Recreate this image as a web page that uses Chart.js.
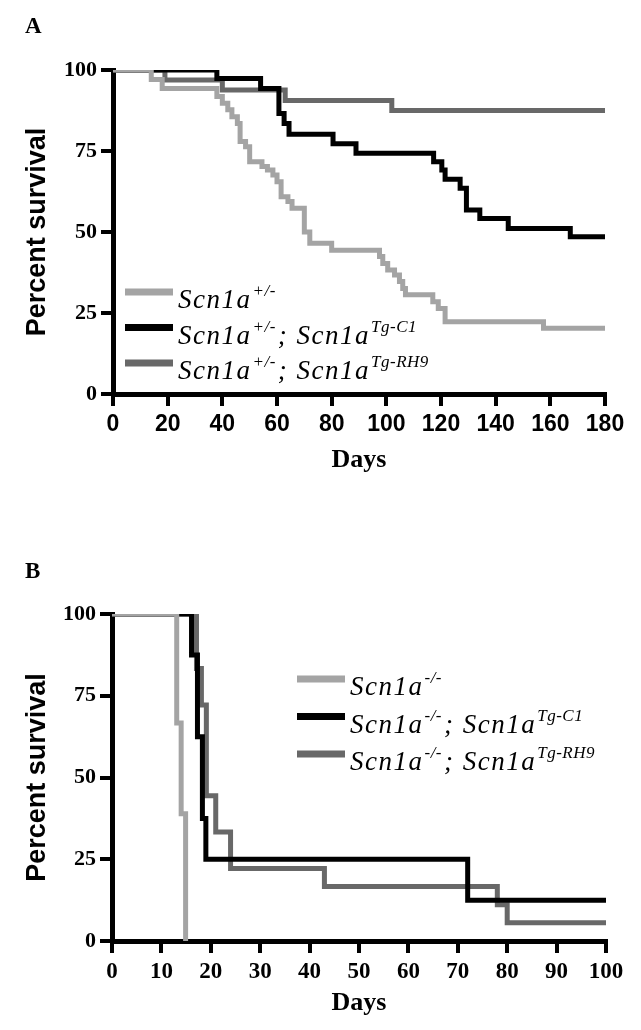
<!DOCTYPE html>
<html>
<head>
<meta charset="utf-8">
<script src="https://cdn.jsdelivr.net/npm/chart.js@4.4.0/dist/chart.umd.min.js"></script>
<style>
  body { margin: 0; background: #fff; width: 641px; height: 1030px; overflow: hidden; position: relative; }
  canvas { position: absolute; left: 0; }
</style>
</head>
<body>
<canvas id="chartA" width="641" height="500" style="top:0"></canvas>
<canvas id="chartB" width="641" height="510" style="top:520px"></canvas>
<script>
// ---- panel A: heterozygous mice, days 0-180 ----
const hetDays = [0, 14, 18, 38, 40, 42, 43.5, 45.5, 46.5, 48.5, 50, 54.5, 56.5, 58.5, 60, 61.5, 64, 65.5, 70, 72, 80, 97.5, 98.7, 100.5, 103, 104.8, 106, 107, 107.5, 117, 119, 121.5, 157.5, 180];
const hetSurv = [100, 97.1, 94.3, 91.8, 89.7, 87.7, 85.6, 83.5, 77.9, 76.3, 71.7, 70.2, 69.1, 67.6, 65.5, 60.9, 59.4, 57.3, 50, 46.5, 44.4, 42.4, 40.3, 38.3, 36.7, 34.7, 32.6, 30.6, 30.6, 28.5, 26.4, 22.3, 20.3, 20.3];

const hetC1Days = [0, 38, 54, 60.7, 62.6, 64.4, 80.5, 88.9, 117.3, 120.3, 121.5, 127, 129.3, 134.2, 144.6, 167.3, 180];
const hetC1Surv = [100, 97.4, 94.3, 86.6, 83.5, 80.2, 77.2, 74.3, 71.7, 69.1, 66.3, 63.5, 56.8, 54.2, 51.1, 48.5, 48.5];

const hetRH9Days = [0, 19, 40, 63, 102, 180];
const hetRH9Surv = [100, 96.9, 93.8, 90.6, 87.5, 87.5];

const xTicksA = { max: 180, step: 20 };

// ---- panel B: homozygous mice, days 0-100 ----
const koDays = [0, 13.1, 14, 14.9];
const koSurv = [100, 66.7, 38.9, 0];

const koC1Days = [0, 16.1, 17.3, 18.3, 19, 72, 100];
const koC1Surv = [100, 87.5, 62.5, 37.5, 25, 12.5, 12.5];

const koRH9Days = [0, 17.1, 18.1, 19.1, 21, 24, 43, 78, 80, 100];
const koRH9Surv = [100, 83.3, 72.2, 44.4, 33.3, 22.2, 16.7, 11.1, 5.6, 5.6];

const xTicksB = { max: 100, step: 10 };
const yTicks = { max: 100, step: 25 };

// legend text: [main, superscript] pairs
const labelsA = [
  [['Scn1a', '+/-']],
  [['Scn1a', '+/-'], ['; Scn1a', 'Tg-C1']],
  [['Scn1a', '+/-'], ['; Scn1a', 'Tg-RH9']]
];
const labelsB = [
  [['Scn1a', '-/-']],
  [['Scn1a', '-/-'], ['; Scn1a', 'Tg-C1']],
  [['Scn1a', '-/-'], ['; Scn1a', 'Tg-RH9']]
];

const LIGHT = '#a4a4a4';
const BLACK = '#000000';
const DARK = '#686868';

function pts(days, surv) {
  return days.map((d, i) => ({ x: d, y: surv[i] }));
}

function series(days, surv, color, parts) {
  return {
    data: pts(days, surv),
    parts: parts,
    borderColor: color,
    borderWidth: 5,
    pointRadius: 0,
    stepped: 'before',
    fill: false,
    borderCapStyle: 'round',
    borderJoinStyle: 'miter'
  };
}

// draws the legend rows (with superscripts) and the panel letter
const kmLegend = {
  id: 'kmLegend',
  afterDraw(chart, args, o) {
    const ctx = chart.ctx;
    ctx.save();
    ctx.fillStyle = '#000';
    ctx.textBaseline = 'alphabetic';
    ctx.font = 'bold 23px "Liberation Serif"';
    ctx.fillText(o.letter, o.letterX, o.letterY);

    chart.data.datasets.forEach((ds, i) => {
      const y = o.y + i * o.gap;
      ctx.strokeStyle = ds.borderColor;
      ctx.lineWidth = 7;
      ctx.lineCap = 'butt';
      ctx.beginPath();
      ctx.moveTo(o.x, y);
      ctx.lineTo(o.x + 48, y);
      ctx.stroke();

      let tx = o.x + 53;
      ds.parts.forEach(p => {
        ctx.font = 'italic 27px "Liberation Serif"';
        ctx.letterSpacing = '1.5px';
        ctx.fillText(p[0], tx, y + 16);
        tx += ctx.measureText(p[0]).width;
        ctx.font = 'italic 17px "Liberation Serif"';
        ctx.letterSpacing = '0.5px';
        ctx.fillText(p[1], tx + 1, y + 4);
        tx += ctx.measureText(p[1]).width + 3;
      });
    });
    ctx.restore();
  }
};

function makeOptions(xt, sizes, legend) {
  return {
    responsive: false,
    animation: false,
    layout: { padding: { top: sizes.top, right: sizes.right, left: 0, bottom: 0 } },
    plugins: {
      legend: { display: false },
      tooltip: { enabled: false },
      kmLegend: legend
    },
    scales: {
      x: {
        type: 'linear',
        min: 0,
        max: xt.max,
        ticks: { stepSize: xt.step, color: '#000', font: sizes.xFont, padding: 5, maxRotation: 0, autoSkip: false },
        grid: { drawOnChartArea: false, color: '#000', lineWidth: 4, tickLength: 12 },
        border: { color: '#000', width: 5 },
        title: {
          display: true, text: 'Days', color: '#000',
          font: { family: 'Liberation Serif', size: 26, weight: 'bold' },
          padding: { top: 0, bottom: sizes.daysPad }
        },
        afterFit: s => { s.height = sizes.xHeight; }
      },
      y: {
        min: 0,
        max: yTicks.max,
        ticks: { stepSize: yTicks.step, color: '#000', font: { family: 'Liberation Serif', size: 22, weight: 'bold' }, padding: 4 },
        grid: { drawOnChartArea: false, color: '#000', lineWidth: 4, tickLength: 12 },
        border: { color: '#000', width: 5 },
        title: {
          display: true, text: 'Percent survival', color: '#000',
          font: { family: 'Liberation Sans', size: 27, weight: 'bold' },
          padding: { top: 21, bottom: 0 }
        },
        afterFit: s => { s.width = sizes.yWidth; }
      }
    }
  };
}

new Chart(document.getElementById('chartA'), {
  type: 'line',
  data: {
    datasets: [
      series(hetDays, hetSurv, LIGHT, labelsA[0]),
      series(hetC1Days, hetC1Surv, BLACK, labelsA[1]),
      series(hetRH9Days, hetRH9Surv, DARK, labelsA[2])
    ]
  },
  options: makeOptions(xTicksA, {
    top: 70, right: 36, xHeight: 106, yWidth: 113, daysPad: 24,
    xFont: { family: 'Liberation Sans', size: 23, weight: 'bold' }
  }, { letter: 'A', letterX: 25, letterY: 33, x: 125, y: 292, gap: 35.5 }),
  plugins: [kmLegend]
});

new Chart(document.getElementById('chartB'), {
  type: 'line',
  data: {
    datasets: [
      series(koDays, koSurv, LIGHT, labelsB[0]),
      series(koC1Days, koC1Surv, BLACK, labelsB[1]),
      series(koRH9Days, koRH9Surv, DARK, labelsB[2])
    ]
  },
  options: makeOptions(xTicksB, {
    top: 94, right: 35, xHeight: 89, yWidth: 112, daysPad: 11,
    xFont: { family: 'Liberation Serif', size: 23, weight: 'bold' }
  }, { letter: 'B', letterX: 25, letterY: 58, x: 297, y: 159, gap: 37.5 }),
  plugins: [kmLegend]
});
</script>
</body>
</html>
